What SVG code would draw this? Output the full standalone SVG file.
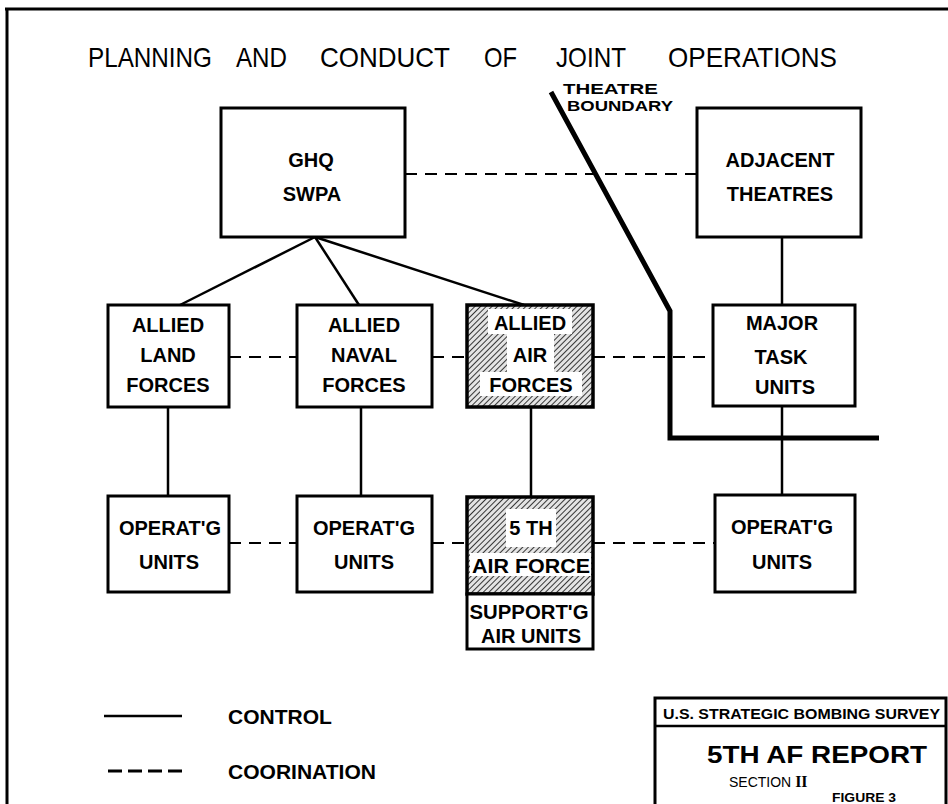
<svg xmlns="http://www.w3.org/2000/svg" width="948" height="804" viewBox="0 0 948 804">
<defs>
<pattern id="hatch" width="4" height="4" patternUnits="userSpaceOnUse" patternTransform="rotate(45)">
<rect width="4" height="4" fill="#e4e4e4"/>
<line x1="0" y1="0" x2="0" y2="4" stroke="#222" stroke-width="1.8"/>
</pattern>
</defs>
<style>
.box{fill:#fff;stroke:#000;stroke-width:3}
.hbox{fill:url(#hatch);stroke:#000;stroke-width:3.5}
.t{font-family:"Liberation Sans",Arial,sans-serif;font-weight:bold;font-size:20px;text-anchor:middle;fill:#000}
.title{font-family:"Liberation Sans",Arial,sans-serif;font-size:28px;fill:#000}
.ctl{stroke:#000;stroke-width:2.5;fill:none}
.crd{stroke:#000;stroke-width:2.2;fill:none;stroke-dasharray:12 8}
.bnd{stroke:#000;stroke-width:5;fill:none;stroke-linejoin:miter}
</style>
<rect width="948" height="804" fill="#fff"/>
<g id="frame">
<line x1="7" y1="9" x2="7" y2="804" stroke="#000" stroke-width="3"/>
<line x1="5" y1="9" x2="948" y2="9" stroke="#000" stroke-width="3"/>
</g>
<g id="title" class="title">
<text x="88" y="67" textLength="124" lengthAdjust="spacingAndGlyphs">PLANNING</text>
<text x="236" y="67" textLength="51" lengthAdjust="spacingAndGlyphs">AND</text>
<text x="320" y="67" textLength="130" lengthAdjust="spacingAndGlyphs">CONDUCT</text>
<text x="484" y="67" textLength="33" lengthAdjust="spacingAndGlyphs">OF</text>
<text x="556" y="67" textLength="70" lengthAdjust="spacingAndGlyphs">JOINT</text>
<text x="668" y="67" textLength="169" lengthAdjust="spacingAndGlyphs">OPERATIONS</text>
</g>
<g id="connectors">
<line class="crd" x1="405" y1="174" x2="697" y2="174"/>
<line class="ctl" x1="315" y1="237" x2="180" y2="305"/>
<line class="ctl" x1="315" y1="237" x2="359" y2="305"/>
<line class="ctl" x1="315" y1="237" x2="524" y2="305"/>
<line class="ctl" x1="782" y1="237" x2="782" y2="305"/>
<line class="crd" x1="229" y1="357" x2="297" y2="357"/>
<line class="crd" x1="432" y1="357" x2="467" y2="357"/>
<line class="crd" x1="593" y1="357" x2="713" y2="357"/>
<line class="ctl" x1="168" y1="407" x2="168" y2="496"/>
<line class="ctl" x1="361" y1="407" x2="361" y2="496"/>
<line class="ctl" x1="531" y1="407" x2="531" y2="497"/>
<line class="ctl" x1="782" y1="406" x2="782" y2="495"/>
<line class="crd" x1="229" y1="543" x2="297" y2="543"/>
<line class="crd" x1="432" y1="543" x2="467" y2="543"/>
<line class="crd" x1="593" y1="543" x2="715" y2="543"/>
</g>
<g id="theatre-boundary">
<polyline class="bnd" points="551,92 670,311 670,438 879,438"/>
<text x="563" y="94" class="t" style="font-size:15px;text-anchor:start" textLength="95" lengthAdjust="spacingAndGlyphs">THEATRE</text>
<text x="567" y="111" class="t" style="font-size:15px;text-anchor:start" textLength="106" lengthAdjust="spacingAndGlyphs">BOUNDARY</text>
</g>
<g id="ghq">
<rect class="box" x="221" y="108" width="184" height="129"/>
<text class="t" x="311" y="167">GHQ</text>
<text class="t" x="312" y="201">SWPA</text>
</g>
<g id="adjacent">
<rect class="box" x="697" y="108" width="164" height="129"/>
<text class="t" x="780" y="167">ADJACENT</text>
<text class="t" x="780" y="201">THEATRES</text>
</g>
<g id="land">
<rect class="box" x="108" y="305" width="121" height="102"/>
<text class="t" x="168" y="332">ALLIED</text>
<text class="t" x="168" y="362">LAND</text>
<text class="t" x="168" y="392">FORCES</text>
</g>
<g id="naval">
<rect class="box" x="297" y="305" width="135" height="102"/>
<text class="t" x="364" y="332">ALLIED</text>
<text class="t" x="364" y="362">NAVAL</text>
<text class="t" x="364" y="392">FORCES</text>
</g>
<g id="air">
<rect class="hbox" x="467" y="305" width="126" height="102"/>
<rect x="488" y="309" width="84" height="25" fill="#fff"/>
<rect x="507" y="334" width="47" height="38" fill="#fff"/>
<rect x="480" y="372" width="102" height="24" fill="#fff"/>
<text class="t" x="530" y="330">ALLIED</text>
<text class="t" x="530" y="362">AIR</text>
<text class="t" x="531" y="392">FORCES</text>
</g>
<g id="major">
<rect class="box" x="713" y="305" width="142" height="101"/>
<text class="t" x="782" y="330">MAJOR</text>
<text class="t" x="781" y="364">TASK</text>
<text class="t" x="785" y="394">UNITS</text>
</g>
<g id="land-op">
<rect class="box" x="108" y="496" width="121" height="96"/>
<text class="t" x="170" y="535">OPERAT'G</text>
<text class="t" x="169" y="569">UNITS</text>
</g>
<g id="naval-op">
<rect class="box" x="297" y="496" width="135" height="96"/>
<text class="t" x="364" y="535">OPERAT'G</text>
<text class="t" x="364" y="569">UNITS</text>
</g>
<g id="fifth">
<rect class="hbox" x="467" y="497" width="126" height="97"/>
<rect x="506" y="509" width="50" height="38" fill="#fff"/>
<rect x="470" y="553" width="121" height="23" fill="#fff"/>
<text class="t" x="531" y="535">5 TH</text>
<text class="t" x="531" y="573" textLength="118" lengthAdjust="spacingAndGlyphs">AIR FORCE</text>
<rect class="box" x="467" y="594" width="126" height="55"/>
<text class="t" x="529" y="619" textLength="119" lengthAdjust="spacingAndGlyphs">SUPPORT'G</text>
<text class="t" x="531" y="643">AIR UNITS</text>
</g>
<g id="right-op">
<rect class="box" x="715" y="495" width="140" height="97"/>
<text class="t" x="782" y="534">OPERAT'G</text>
<text class="t" x="782" y="569">UNITS</text>
</g>
<g id="legend">
<line class="ctl" x1="104" y1="716" x2="182" y2="716"/>
<line class="crd" x1="108" y1="771" x2="186" y2="771" style="stroke-dasharray:14 6;stroke-width:3"/>
<text class="t" x="228" y="724" style="text-anchor:start;font-size:21px">CONTROL</text>
<text class="t" x="228" y="779" style="text-anchor:start;font-size:21px" textLength="148" lengthAdjust="spacingAndGlyphs">COORINATION</text>
</g>
<g id="title-block">
<polyline points="655,804 655,698 946,698 946,804" fill="none" stroke="#000" stroke-width="3"/>
<line x1="655" y1="726" x2="946" y2="726" stroke="#000" stroke-width="2.5"/>
<text class="t" x="663" y="719" style="text-anchor:start;font-size:15px" textLength="277" lengthAdjust="spacingAndGlyphs">U.S. STRATEGIC BOMBING SURVEY</text>
<text class="t" x="707" y="763" style="text-anchor:start;font-size:23px" textLength="220" lengthAdjust="spacingAndGlyphs">5TH AF REPORT</text>
<text x="729" y="787" style="font-family:'Liberation Sans',Arial,sans-serif;font-size:14px">SECTION <tspan font-family="'Liberation Serif',serif" font-weight="bold" font-size="16">II</tspan></text>
<text class="t" x="832" y="802" style="text-anchor:start;font-size:12px" textLength="64" lengthAdjust="spacingAndGlyphs">FIGURE   3</text>
</g>
</svg>
